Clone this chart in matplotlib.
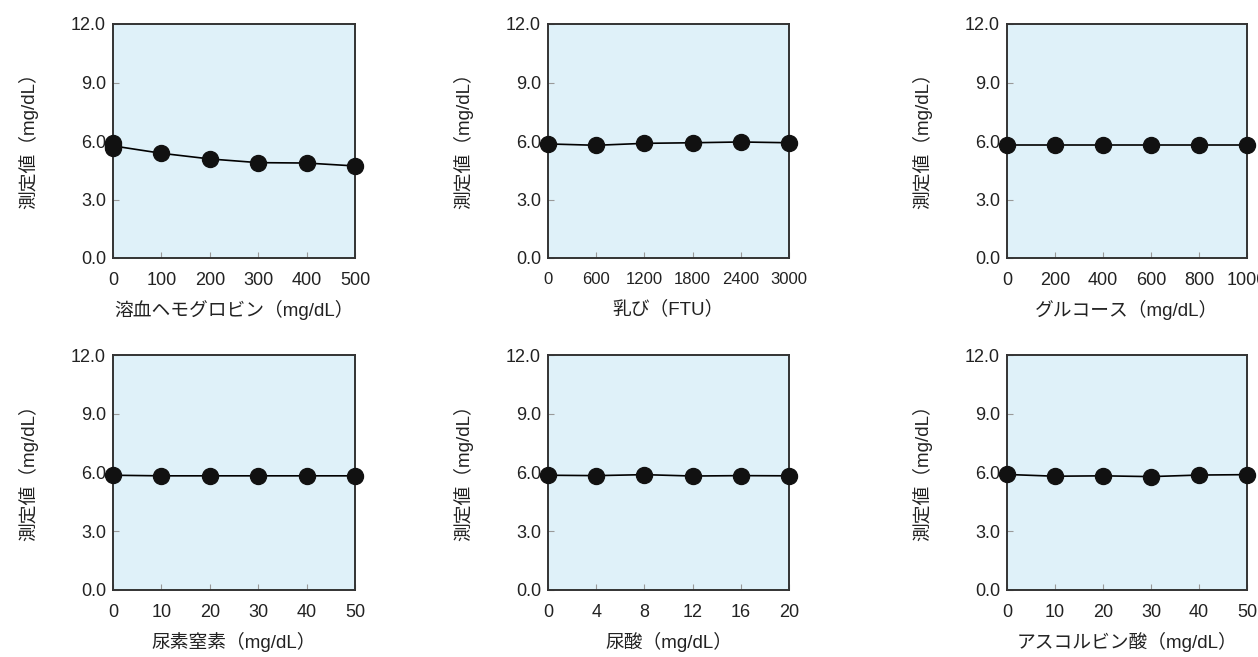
import matplotlib.pyplot as plt

# Arial-like latin, gothic fallback for Japanese glyphs
plt.rcParams['font.family'] = ['Liberation Sans', 'Noto Sans CJK JP', 'DejaVu Sans']

# 干渉物質ごとの添加濃度と測定値
hb_x = [0, 100, 200, 300, 400, 500]
hb_y = [5.75, 5.37, 5.08, 4.89, 4.87, 4.72]
hb_zero = [5.9, 5.62]

chyle_x = [0, 600, 1200, 1800, 2400, 3000]
chyle_y = [5.85, 5.78, 5.88, 5.91, 5.95, 5.91]

glu_x = [0, 200, 400, 600, 800, 1000]
glu_y = [5.81, 5.81, 5.81, 5.81, 5.81, 5.81]

bun_x = [0, 10, 20, 30, 40, 50]
bun_y = [5.86, 5.83, 5.83, 5.83, 5.83, 5.83]

ua_x = [0, 4, 8, 12, 16, 20]
ua_y = [5.86, 5.84, 5.89, 5.82, 5.84, 5.83]

asc_x = [0, 10, 20, 30, 40, 50]
asc_y = [5.9, 5.81, 5.83, 5.79, 5.87, 5.89]

yticks = [0.0, 3.0, 6.0, 9.0, 12.0]
ylabel = '測定値（mg/dL）'

panels = [
    (hb_x, hb_y, '溶血ヘモグロビン（mg/dL）'),
    (chyle_x, chyle_y, '乳び（FTU）'),
    (glu_x, glu_y, 'グルコース（mg/dL）'),
    (bun_x, bun_y, '尿素窒素（mg/dL）'),
    (ua_x, ua_y, '尿酸（mg/dL）'),
    (asc_x, asc_y, 'アスコルビン酸（mg/dL）'),
]

W, H = 1258, 657
fig = plt.figure(figsize=(W / 100, H / 100), dpi=100)

cols = [(113, 355), (548, 789), (1007, 1247)]
rows = [(24, 258), (355, 590)]

for i, (xs, ys, xlab) in enumerate(panels):
    r, c = divmod(i, 3)
    x0, x1 = cols[c]
    t, b = rows[r]
    ax = fig.add_axes([x0 / W, 1 - b / H, (x1 - x0) / W, (b - t) / H])
    ax.set_facecolor('#dff1f9')

    ax.plot(xs, ys, color='black', lw=1.2, marker='o', ms=11.5,
            mfc='#111111', mec='#111111', clip_on=False, zorder=3)
    if i == 0:
        ax.plot([xs[0]] * len(hb_zero), hb_zero, 'o', ms=11.5,
                color='#111111', clip_on=False, zorder=3)

    ax.set_xlim(xs[0], xs[-1])
    ax.set_ylim(0, 12)
    ax.set_xticks(xs)
    ax.set_yticks(yticks)
    ax.set_yticklabels([f'{v:.1f}' for v in yticks])

    for s in ax.spines.values():
        s.set_color('#333333')
        s.set_linewidth(1.4)

    ax.tick_params(direction='in', length=4, width=0.8, color='#999999',
                   labelsize=13, labelcolor='#222222')
    # four-digit ticks need a bit less room
    ax.tick_params(axis='x', pad=10, labelsize=12 if i == 1 else 13)
    ax.tick_params(axis='y', pad=5)

    ax.set_xlabel(xlab, fontsize=13.5, color='#222222')
    ax.xaxis.set_label_coords(0.5, -0.18)
    ax.set_ylabel(ylabel, fontsize=13.5, color='#222222')
    ax.yaxis.set_label_coords(-0.31, 0.52)

fig.savefig('out.png', dpi=100)
